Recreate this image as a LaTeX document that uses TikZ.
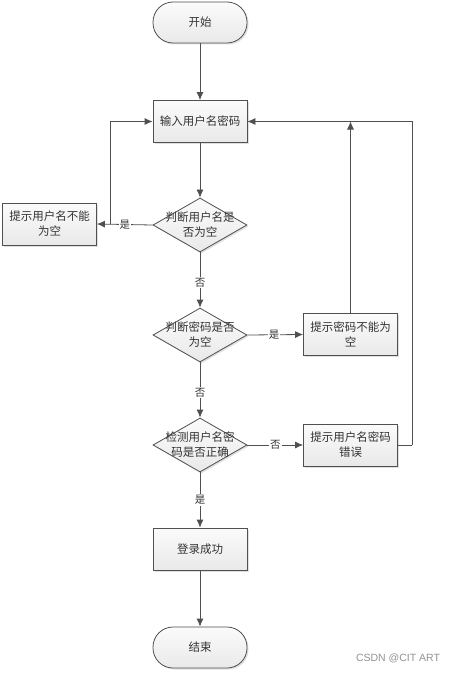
\documentclass[tikz,border=0pt]{standalone}
\usepackage{fontspec}
\newfontfamily\cjk{Noto Sans CJK SC}
\newfontfamily\wm{Liberation Sans}
\usetikzlibrary{shapes.geometric,arrows.meta,shadows}
\definecolor{linec}{HTML}{505050}
\definecolor{txtc}{HTML}{333333}
\definecolor{topc}{HTML}{FBFBFB}
\definecolor{botc}{HTML}{E9E9E9}
\begin{document}
\begin{tikzpicture}[x=1pt,y=-1pt,
  base/.style={draw=linec, line width=0.8pt, top color=topc, bottom color=botc,
    drop shadow={shadow xshift=1.5pt, shadow yshift=-1.5pt, opacity=0.25}},
  procbox/.style={base, rectangle, minimum width=94pt, minimum height=42pt, inner sep=2pt,
    font=\cjk\fontsize{11.5}{15}\selectfont, text=txtc, align=center},
  termbox/.style={procbox, rounded corners=20pt, minimum height=41pt},
  decbox/.style={base, diamond, minimum width=94pt, minimum height=54pt, inner sep=0pt, aspect=1.74},
  dtext/.style={font=\cjk\fontsize{11.5}{15}\selectfont, text=txtc, align=center, inner sep=0pt},
  conn/.style={draw=linec, line width=0.8pt, -{Latex[length=8pt,width=7pt]}},
  plain/.style={draw=linec, line width=0.8pt},
  lab/.style={font=\cjk\fontsize{10.5}{12}\selectfont, text=txtc, fill=white, inner sep=1pt}
]
\useasboundingbox[fill=white] (0,0) rectangle (459,674);

\node[termbox] (start) at (200,22.5) {开始};
\node[procbox] (input) at (200,121.5) {输入用户名密码};
\node[decbox] (d1) at (200,225) {};
\node[dtext] (d1t) at (200,225) {判断用户名是\\否为空};
\node[procbox] (e1) at (49.5,224) {提示用户名不能\\为空};
\node[decbox] (d2) at (200,335) {};
\node[dtext] (d2t) at (200,335) {判断密码是否\\为空};
\node[procbox] (e2) at (350.5,334.5) {提示密码不能为\\空};
\node[decbox] (d3) at (200,445) {};
\node[dtext] (d3t) at (200,445) {检测用户名密\\码是否正确};
\node[procbox] (e3) at (350.5,445) {提示用户名密码\\错误};
\node[procbox] (ok) at (200,549) {登录成功};
\node[termbox] (end) at (200,647.5) {结束};

\draw[conn] (start) -- (input);
\draw[conn] (input) -- (d1);
\draw[conn] (d1) -- node[lab, pos=0.55] (l1) {否} (d2);
\draw[conn] (d2) -- node[lab, pos=0.55] (l2) {否} (d3);
\draw[conn] (d3) -- node[lab, pos=0.5] (l3) {是} (ok);
\draw[conn] (ok) -- (end);

\draw[conn] (d1.west) -- node[lab, pos=0.5] (l4) {是} (e1.east);
\coordinate (j1) at ([xshift=13pt]e1.east);
\draw[conn] (j1) |- (input.west);

\draw[conn] (d2.east) -- node[lab, pos=0.48] (l5) {是} (e2.west);
\draw[conn] (e2.north) -- (e2.north |- input.east);

\draw[conn] (d3.east) -- node[lab, pos=0.5] (l6) {否} (e3.west);
\coordinate (j3) at ([xshift=14pt]e3.east);
\draw[plain] (e3.east) -- (j3);
\draw[conn] (j3) |- (input.east);

\node[font=\wm\fontsize{10.5}{12}\selectfont, text=gray!85] (wm) at (398,658) {CSDN @CIT ART};
\end{tikzpicture}
\end{document}
